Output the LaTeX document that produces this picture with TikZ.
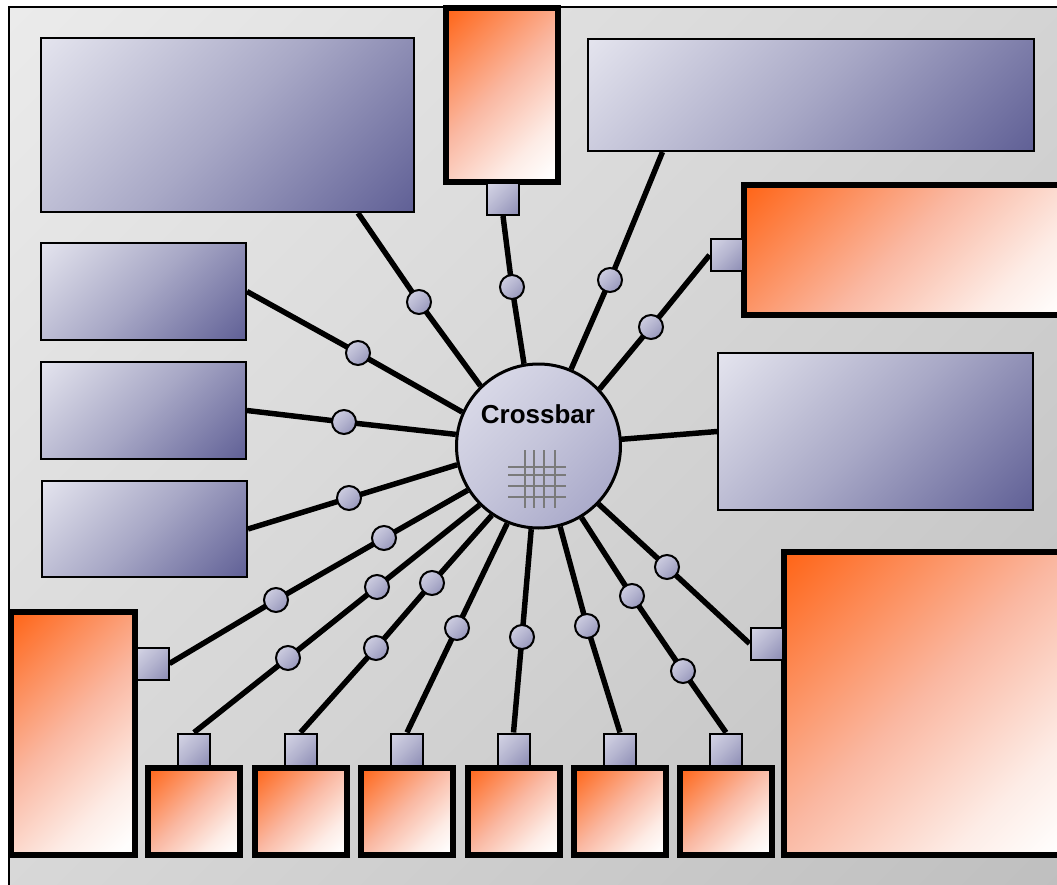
\documentclass[tikz,border=0pt]{standalone}
\usepackage{fontspec}
\setmainfont{Liberation Sans}
\usetikzlibrary{fit,calc}
\pgfdeclarelayer{back}
\pgfdeclarelayer{wires}
\pgfsetlayers{back,wires,main}
\definecolor{bgA}{RGB}{235,235,235}
\definecolor{bgM}{RGB}{213,213,213}
\definecolor{bgB}{RGB}{190,190,190}
\definecolor{blA}{RGB}{228,228,238}
\definecolor{blM}{RGB}{168,168,198}
\definecolor{blB}{RGB}{96,96,150}
\definecolor{ptA}{RGB}{214,214,230}
\definecolor{ptM}{RGB}{180,180,207}
\definecolor{ptB}{RGB}{140,140,180}
\definecolor{xbA}{RGB}{224,224,236}
\definecolor{xbM}{RGB}{196,196,218}
\definecolor{xbB}{RGB}{160,160,196}
\definecolor{orA}{RGB}{255,100,22}
\definecolor{orM}{RGB}{250,184,162}
\definecolor{orL}{RGB}{253,236,230}
\definecolor{orB}{RGB}{255,254,253}
\definecolor{gridc}{RGB}{122,122,122}
\pgfdeclareverticalshading{bgshade}{100bp}{color(0bp)=(bgB); color(14.6bp)=(bgB); color(50bp)=(bgM); color(85.4bp)=(bgA); color(100bp)=(bgA)}
\pgfdeclareverticalshading{blshade}{100bp}{color(0bp)=(blB); color(14.6bp)=(blB); color(50bp)=(blM); color(85.4bp)=(blA); color(100bp)=(blA)}
\pgfdeclareverticalshading{ptshade}{100bp}{color(0bp)=(ptB); color(14.6bp)=(ptB); color(50bp)=(ptM); color(85.4bp)=(ptA); color(100bp)=(ptA)}
\pgfdeclareverticalshading{xbshade}{100bp}{color(0bp)=(xbB); color(14.6bp)=(xbB); color(50bp)=(xbM); color(85.4bp)=(xbA); color(100bp)=(xbA)}
\pgfdeclareverticalshading{orshade}{100bp}{color(0bp)=(orB); color(18bp)=(orB); color(30bp)=(orL); color(52bp)=(orM); color(85.4bp)=(orA); color(100bp)=(orA)}
\begin{document}
\begin{tikzpicture}[x=0.75pt,y=-0.75pt,
  bluebox/.style={rectangle, draw=black, line width=1.5pt, shade, shading=blshade, shading angle=45, inner sep=0pt},
  orangebox/.style={rectangle, draw=black, line width=4.5pt, shade, shading=orshade, shading angle=45, inner sep=0pt},
  port/.style={rectangle, draw=black, line width=1.5pt, shade, shading=ptshade, shading angle=45, minimum size=24pt, inner sep=0pt},
  joint/.style={circle, draw=black, line width=1.5pt, shade, shading=ptshade, shading angle=45, minimum size=18pt, inner sep=0pt},
  hub/.style={circle, draw=black, line width=2.25pt, shade, shading=xbshade, shading angle=45, minimum size=123pt, inner sep=0pt},
  wire/.style={line width=4.1pt, line join=round},
  gridline/.style={draw=gridc, line width=2pt},
]
\useasboundingbox (0,0) rectangle (1057,885);
\begin{pgfonlayer}{back}
  \fill[white] (0,0) rectangle (1057,885);
  \draw[line width=1.5pt, shade, shading=bgshade, shading angle=45] (9,7) rectangle (1090,910);
\end{pgfonlayer}

% blue boxes
\node[bluebox, fit={(41,38) (414,212)}] (b1) {};
\node[bluebox, fit={(588,39) (1034,151)}] (b2) {};
\node[bluebox, fit={(41,243) (246,340)}] (b3) {};
\node[bluebox, fit={(41,362) (246,459)}] (b4) {};
\node[bluebox, fit={(42,481) (247,577)}] (b5) {};
\node[bluebox, fit={(718,353) (1033,510)}] (b6) {};

% orange boxes
\node[orangebox, fit={(446,8) (558,181.5)}] (o1) {};
\node[orangebox, fit={(744,184.5) (1080,314.5)}] (o2) {};
\node[orangebox, fit={(784,552) (1080,855)}] (o3) {};
\node[orangebox, fit={(11,612) (134.5,855)}] (o4) {};
\node[orangebox, fit={(148,768) (240,854.5)}] (s1) {};
\node[orangebox, fit={(254.5,768) (346.5,854.5)}] (s2) {};
\node[orangebox, fit={(361,768) (453,854.5)}] (s3) {};
\node[orangebox, fit={(467.5,768) (559.5,854.5)}] (s4) {};
\node[orangebox, fit={(574,768) (666,854.5)}] (s5) {};
\node[orangebox, fit={(680,768) (772,854.5)}] (s6) {};

% ports
\node[port] (p0) at (503,199) {};
\node[port] (p1) at (726.5,255) {};
\node[port] (p2) at (766.5,643.5) {};
\node[port] (q0) at (152.5,663.5) {};
\node[port] (q1) at (194,749.5) {};
\node[port] (q2) at (300.5,749.5) {};
\node[port] (q3) at (407,749.5) {};
\node[port] (q4) at (513.5,749.5) {};
\node[port] (q5) at (620,749.5) {};
\node[port] (q6) at (726,749.5) {};

% crossbar
\node[hub] (xbar) at (538.5,446) {};
\node[font=\bfseries\fontsize{19.5}{22}\selectfont, inner sep=0pt] (xlabel) at (538,414) {Crossbar};
\foreach \gx in {525,534,544,555} \draw[gridline] (\gx,450) -- (\gx,508);
\foreach \gy in {467,475,486,497} \draw[gridline] (508,\gy) -- (566,\gy);

% joints
\node[joint] (j1) at (419,302) {};
\node[joint] (j2) at (512,287) {};
\node[joint] (j3) at (610,280) {};
\node[joint] (j4) at (651,327) {};
\node[joint] (j6) at (667,567) {};
\node[joint] (j7a) at (632,596) {};
\node[joint] (j7b) at (683,671) {};
\node[joint] (j8) at (587,626) {};
\node[joint] (j9) at (522,637) {};
\node[joint] (j10) at (457,628) {};
\node[joint] (j11a) at (432,583) {};
\node[joint] (j11b) at (376,648) {};
\node[joint] (j12a) at (377,587) {};
\node[joint] (j12b) at (288,658) {};
\node[joint] (j13a) at (384,538) {};
\node[joint] (j13b) at (276,600) {};
\node[joint] (j14) at (349,498) {};
\node[joint] (j15) at (344,422) {};
\node[joint] (j16) at (358,353) {};

% wires
\begin{pgfonlayer}{wires}
  \draw[wire] (b1.-34.3) -- (j1.center) -- (xbar.134);
  \draw[wire] (p0.south) -- (j2.center) -- (xbar.100.6);
  \draw[wire] (b2.201.4) -- (j3.center) -- (xbar.67.1);
  \draw[wire] (p1.west) -- (j4.center) -- (xbar.43.2);
  \draw[wire] (b6.west) -- (xbar.center);
  \draw[wire] (p2.west) -- (j6.center) -- (xbar.-44.8);
  \draw[wire] (q6.north) -- (j7b.center) -- (j7a.center) -- (xbar.-59.7);
  \draw[wire] (q5.north) -- (j8.center) -- (xbar.-75.4);
  \draw[wire] (q4.north) -- (j9.center) -- (xbar.265.2);
  \draw[wire] (q3.north) -- (j10.center) -- (xbar.248.1);
  \draw[wire] (q2.north) -- (j11b.center) -- (j11a.center) -- (xbar.236.3);
  \draw[wire] (q1.north) -- (j12b.center) -- (j12a.center) -- (xbar.225.2);
  \draw[wire] (q0.east) -- (j13b.center) -- (j13a.center) -- (xbar.212);
  \draw[wire] (b5.east) -- (j14.center) -- (xbar.193.8);
  \draw[wire] (b4.east) -- (j15.center) -- (xbar.172.9);
  \draw[wire] (b3.east) -- (j16.center) -- (xbar.156);
\end{pgfonlayer}
\end{tikzpicture}
\end{document}
